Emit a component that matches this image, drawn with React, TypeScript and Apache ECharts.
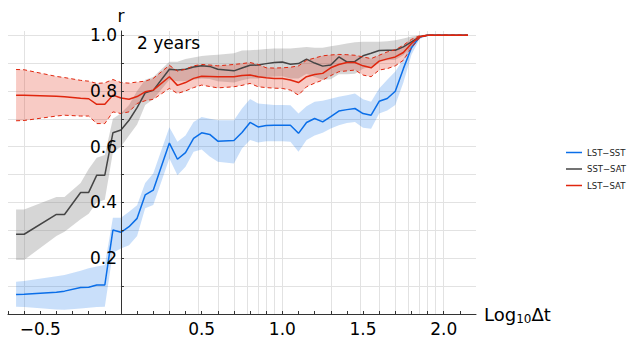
import React, { useEffect, useRef } from 'react';
import * as echarts from 'echarts';

// Log10 of the lag Δt at which each correlation was evaluated
const logDt = [
  -0.65, -0.6, -0.4, -0.35, -0.25, -0.2, -0.15, -0.1, -0.05, 0,
  0.05, 0.1, 0.15, 0.2, 0.3, 0.35, 0.4, 0.45, 0.5, 0.55,
  0.6, 0.7, 0.75, 0.8, 0.85, 0.9, 0.95, 1.0, 1.05, 1.1,
  1.15, 1.2, 1.25, 1.3, 1.35, 1.4, 1.45, 1.5, 1.55, 1.6,
  1.65, 1.7, 1.75, 1.8, 1.85, 1.9, 2.15,
];

// LST–SST correlation with its lower / upper bounds
const lstSst = [
  0.070, 0.071, 0.078, 0.082, 0.095, 0.096, 0.104, 0.104, 0.301, 0.293,
  0.313, 0.343, 0.427, 0.444, 0.613, 0.555, 0.579, 0.630, 0.650, 0.644,
  0.620, 0.622, 0.651, 0.687, 0.671, 0.676, 0.677, 0.677, 0.677, 0.648,
  0.687, 0.701, 0.689, 0.708, 0.728, 0.733, 0.737, 0.719, 0.713, 0.763,
  0.773, 0.799, 0.880, 0.955, 0.993, 1.0, 1.0,
];
const lstSstHi = [
  0.116, 0.118, 0.135, 0.140, 0.155, 0.164, 0.170, 0.176, 0.345, 0.345,
  0.367, 0.390, 0.470, 0.504, 0.670, 0.618, 0.640, 0.689, 0.707, 0.700,
  0.695, 0.695, 0.737, 0.771, 0.755, 0.752, 0.750, 0.750, 0.749, 0.719,
  0.745, 0.761, 0.765, 0.772, 0.779, 0.785, 0.791, 0.770, 0.761, 0.809,
  0.840, 0.870, 0.915, 0.970, 0.995, 1.0, 1.0,
];
const lstSstLo = [
  0.026, 0.025, 0.016, 0.015, 0.020, 0.022, 0.025, 0.026, 0.220, 0.235,
  0.247, 0.280, 0.379, 0.391, 0.558, 0.498, 0.528, 0.582, 0.590, 0.565,
  0.546, 0.540, 0.594, 0.624, 0.615, 0.620, 0.620, 0.620, 0.618, 0.582,
  0.624, 0.640, 0.650, 0.665, 0.677, 0.685, 0.689, 0.668, 0.664, 0.719,
  0.730, 0.750, 0.830, 0.930, 0.985, 1.0, 1.0,
];

// SST–SAT correlation with its lower / upper bounds
const sstSat = [
  0.286, 0.286, 0.357, 0.357, 0.436, 0.436, 0.498, 0.498, 0.650, 0.660,
  0.695, 0.740, 0.793, 0.802, 0.878, 0.875, 0.878, 0.886, 0.890, 0.888,
  0.878, 0.872, 0.882, 0.892, 0.893, 0.898, 0.902, 0.904, 0.896, 0.898,
  0.914, 0.900, 0.889, 0.893, 0.922, 0.904, 0.906, 0.926, 0.935, 0.945,
  0.946, 0.946, 0.958, 0.976, 0.994, 1.0, 1.0,
];
const sstSatHi = [
  0.375, 0.375, 0.420, 0.420, 0.470, 0.520, 0.560, 0.570, 0.700, 0.720,
  0.750, 0.800, 0.840, 0.850, 0.905, 0.905, 0.915, 0.920, 0.925, 0.928,
  0.930, 0.935, 0.945, 0.946, 0.948, 0.950, 0.952, 0.952, 0.952, 0.955,
  0.958, 0.955, 0.955, 0.960, 0.965, 0.970, 0.975, 0.976, 0.976, 0.976,
  0.978, 0.982, 0.988, 0.995, 1.0, 1.0, 1.0,
];
const sstSatLo = [
  0.194, 0.194, 0.280, 0.295, 0.340, 0.360, 0.400, 0.410, 0.580, 0.600,
  0.640, 0.680, 0.750, 0.770, 0.840, 0.835, 0.835, 0.840, 0.845, 0.843,
  0.835, 0.830, 0.838, 0.845, 0.845, 0.850, 0.852, 0.853, 0.845, 0.845,
  0.862, 0.850, 0.840, 0.842, 0.860, 0.860, 0.862, 0.880, 0.888, 0.905,
  0.910, 0.912, 0.928, 0.956, 0.988, 1.0, 1.0,
];

// LST–SAT correlation with its lower / upper bounds
const lstSat = [
  0.785, 0.785, 0.781, 0.779, 0.774, 0.772, 0.752, 0.752, 0.785, 0.775,
  0.770, 0.780, 0.797, 0.803, 0.851, 0.820, 0.830, 0.845, 0.853, 0.852,
  0.851, 0.851, 0.855, 0.857, 0.851, 0.847, 0.845, 0.845, 0.839, 0.830,
  0.851, 0.859, 0.863, 0.883, 0.895, 0.902, 0.902, 0.890, 0.883, 0.907,
  0.915, 0.922, 0.938, 0.970, 0.994, 1.0, 1.0,
];
const lstSatHi = [
  0.877, 0.876, 0.852, 0.848, 0.838, 0.835, 0.827, 0.829, 0.841, 0.830,
  0.828, 0.832, 0.835, 0.845, 0.892, 0.871, 0.878, 0.890, 0.895, 0.893,
  0.890, 0.895, 0.898, 0.902, 0.895, 0.883, 0.882, 0.883, 0.885, 0.890,
  0.910, 0.918, 0.926, 0.929, 0.931, 0.930, 0.928, 0.922, 0.916, 0.928,
  0.940, 0.948, 0.964, 0.985, 0.998, 1.0, 1.0,
];
const lstSatLo = [
  0.693, 0.694, 0.710, 0.713, 0.710, 0.710, 0.683, 0.683, 0.725, 0.719,
  0.725, 0.755, 0.765, 0.770, 0.809, 0.791, 0.800, 0.812, 0.821, 0.816,
  0.811, 0.815, 0.820, 0.827, 0.815, 0.812, 0.810, 0.809, 0.803, 0.785,
  0.815, 0.828, 0.839, 0.855, 0.869, 0.872, 0.875, 0.857, 0.851, 0.875,
  0.880, 0.890, 0.910, 0.955, 0.990, 1.0, 1.0,
];

// Axis labels, ticks and grid positions
const xLabelValues = [-0.5, 0.5, 1.0, 1.5, 2.0];
const yLabelValues = [0.2, 0.4, 0.6, 0.8, 1.0];
const xTickValues = [
  -0.7, -0.6, -0.5, -0.4, -0.3, -0.2, -0.1, 0.1, 0.2, 0.3, 0.4, 0.5, 0.6, 0.7,
  0.8, 0.9, 1.0, 1.1, 1.2, 1.3, 1.4, 1.5, 1.6, 1.7, 1.8, 1.9, 2.0, 2.1,
];
const yTickValues = [0.1, 0.2, 0.3, 0.4, 0.5, 0.6, 0.7, 0.8, 0.9, 1.0];
// vertical grid lines sit at log10 of these lags
const gridLags = [0.25, 2, 3, 4, 5, 6, 7, 8, 9, 10, 20, 30, 40, 50, 60, 70, 80, 90, 100];

const names = ['LST\u2212SST', 'SST\u2212SAT', 'LST\u2212SAT'];
const BLUE = '#0a6ee8';
const GRAY = '#454545';
const RED = '#e0260e';
const FONT = 'DejaVu Sans';

// plot box inside the 627×339 canvas
const GRID_LEFT = 8;
const GRID_RIGHT = 151;
// the y-axis sits on x = 0, so its labels are pulled in from the left edge to end just left of it
const Y_LABEL_RIGHT = 117;

const pairs = (ys: number[]) => logDt.map((x, i) => [x, ys[i]]);

const fmt = (v: number) => (v < 0 ? '\u2212' + Math.abs(v).toFixed(1) : v.toFixed(1));

function band(name: string, lo: number[], hi: number[], color: string, opacity: number) {
  return {
    type: 'custom',
    name,
    silent: true,
    data: logDt.map((x, i) => [x, lo[i], hi[i]]),
    encode: { x: 0, y: [1, 2] },
    renderItem: (params: any, api: any) => {
      if (params.dataIndex !== 0) return null;
      const pts: number[][] = [];
      for (let i = 0; i < logDt.length; i++) pts.push(api.coord([logDt[i], hi[i]]));
      for (let i = logDt.length - 1; i >= 0; i--) pts.push(api.coord([logDt[i], lo[i]]));
      return { type: 'polygon', shape: { points: pts }, style: { fill: color, opacity } };
    },
  };
}

function line(name: string, ys: number[], color: string, width: number, dashed = false) {
  return {
    type: 'line',
    name,
    data: pairs(ys),
    showSymbol: false,
    symbol: 'none',
    silent: true,
    lineStyle: { color, width, type: dashed ? [4, 3] : 'solid' },
    itemStyle: { color },
  };
}

export default function App() {
  const ref = useRef<HTMLDivElement>(null);

  useEffect(() => {
    if (!ref.current) return;
    const chart = echarts.init(ref.current, undefined, { renderer: 'svg' });
    const gridLine = { color: '#e2e2e2', width: 1, type: 'solid' };

    chart.setOption({
      animation: false,
      backgroundColor: '#ffffff',
      textStyle: { fontFamily: FONT },
      grid: { left: GRID_LEFT, right: GRID_RIGHT, top: 31, bottom: 25, containLabel: false, outerBoundsMode: 'none' },
      legend: {
        orient: 'vertical',
        left: 566,
        top: 148,
        padding: 0,
        itemWidth: 16,
        itemHeight: 10,
        itemGap: 7.5,
        icon: 'path://M0 0H32V3H0Z',
        data: names,
        textStyle: { fontFamily: FONT, fontSize: 8.5, color: '#222' },
      },
      xAxis: {
        type: 'value',
        z: 10,
        min: -0.7,
        max: 2.2,
        name: '{a|Log}{s|10}{a|\u0394t}',
        nameLocation: 'end',
        nameGap: 8,
        nameTextStyle: {
          rich: {
            a: { fontFamily: FONT, fontSize: 18, lineHeight: 18, color: '#000', verticalAlign: 'top' },
            s: { fontFamily: FONT, fontSize: 12, lineHeight: 12, color: '#000', verticalAlign: 'top', padding: [8, 0, 0, 0] },
          },
        },
        axisLine: { onZero: true, lineStyle: { color: '#333', width: 1 } },
        axisTick: { show: true, inside: true, length: 3, customValues: xTickValues, lineStyle: { color: '#333' } },
        axisLabel: { customValues: xLabelValues, formatter: fmt, fontFamily: FONT, fontSize: 17, color: '#000', margin: 6 },
        splitLine: { show: false },
      },
      yAxis: {
        type: 'value',
        z: 10,
        min: 0,
        max: 1.015,
        name: 'r',
        nameLocation: 'end',
        nameGap: 7,
        nameTextStyle: { fontFamily: FONT, fontSize: 17, color: '#000' },
        axisLine: { onZero: true, lineStyle: { color: '#333', width: 1 } },
        axisTick: { show: true, inside: true, length: 3, customValues: yTickValues, lineStyle: { color: '#333' } },
        axisLabel: {
          customValues: yLabelValues,
          formatter: fmt,
          fontFamily: FONT,
          fontSize: 17,
          color: '#000',
          margin: GRID_LEFT - Y_LABEL_RIGHT,
        },
        splitLine: { show: false },
      },
      graphic: [
        {
          type: 'text',
          left: 137,
          top: 34,
          z: 10,
          silent: true,
          style: { text: '2 years', font: `17px "${FONT}"`, fill: '#000' },
        },
      ],
      series: [
        {
          type: 'line',
          name: 'grid',
          data: [],
          silent: true,
          z: 0,
          markLine: {
            silent: true,
            z: 1,
            symbol: ['none', 'none'],
            label: { show: false },
            lineStyle: gridLine,
            data: [
              ...gridLags.map((v) => ({ xAxis: Math.log10(v) })),
              ...yTickValues.map((v) => ({ yAxis: v })),
            ],
          },
        },
        band('LST\u2212SST band', lstSstLo, lstSstHi, BLUE, 0.22),
        line(names[0], lstSst, BLUE, 1.5),
        band('SST\u2212SAT band', sstSatLo, sstSatHi, '#7f7f7f', 0.32),
        line(names[1], sstSat, GRAY, 1.5),
        band('LST\u2212SAT band', lstSatLo, lstSatHi, RED, 0.24),
        line('LST\u2212SAT upper', lstSatHi, RED, 1, true),
        line('LST\u2212SAT lower', lstSatLo, RED, 1, true),
        line(names[2], lstSat, RED, 1.5),
      ],
    });

    return () => chart.dispose();
  }, []);

  return <div ref={ref} style={{ position: 'fixed', left: 0, top: 0, width: 627, height: 339 }} />;
}
